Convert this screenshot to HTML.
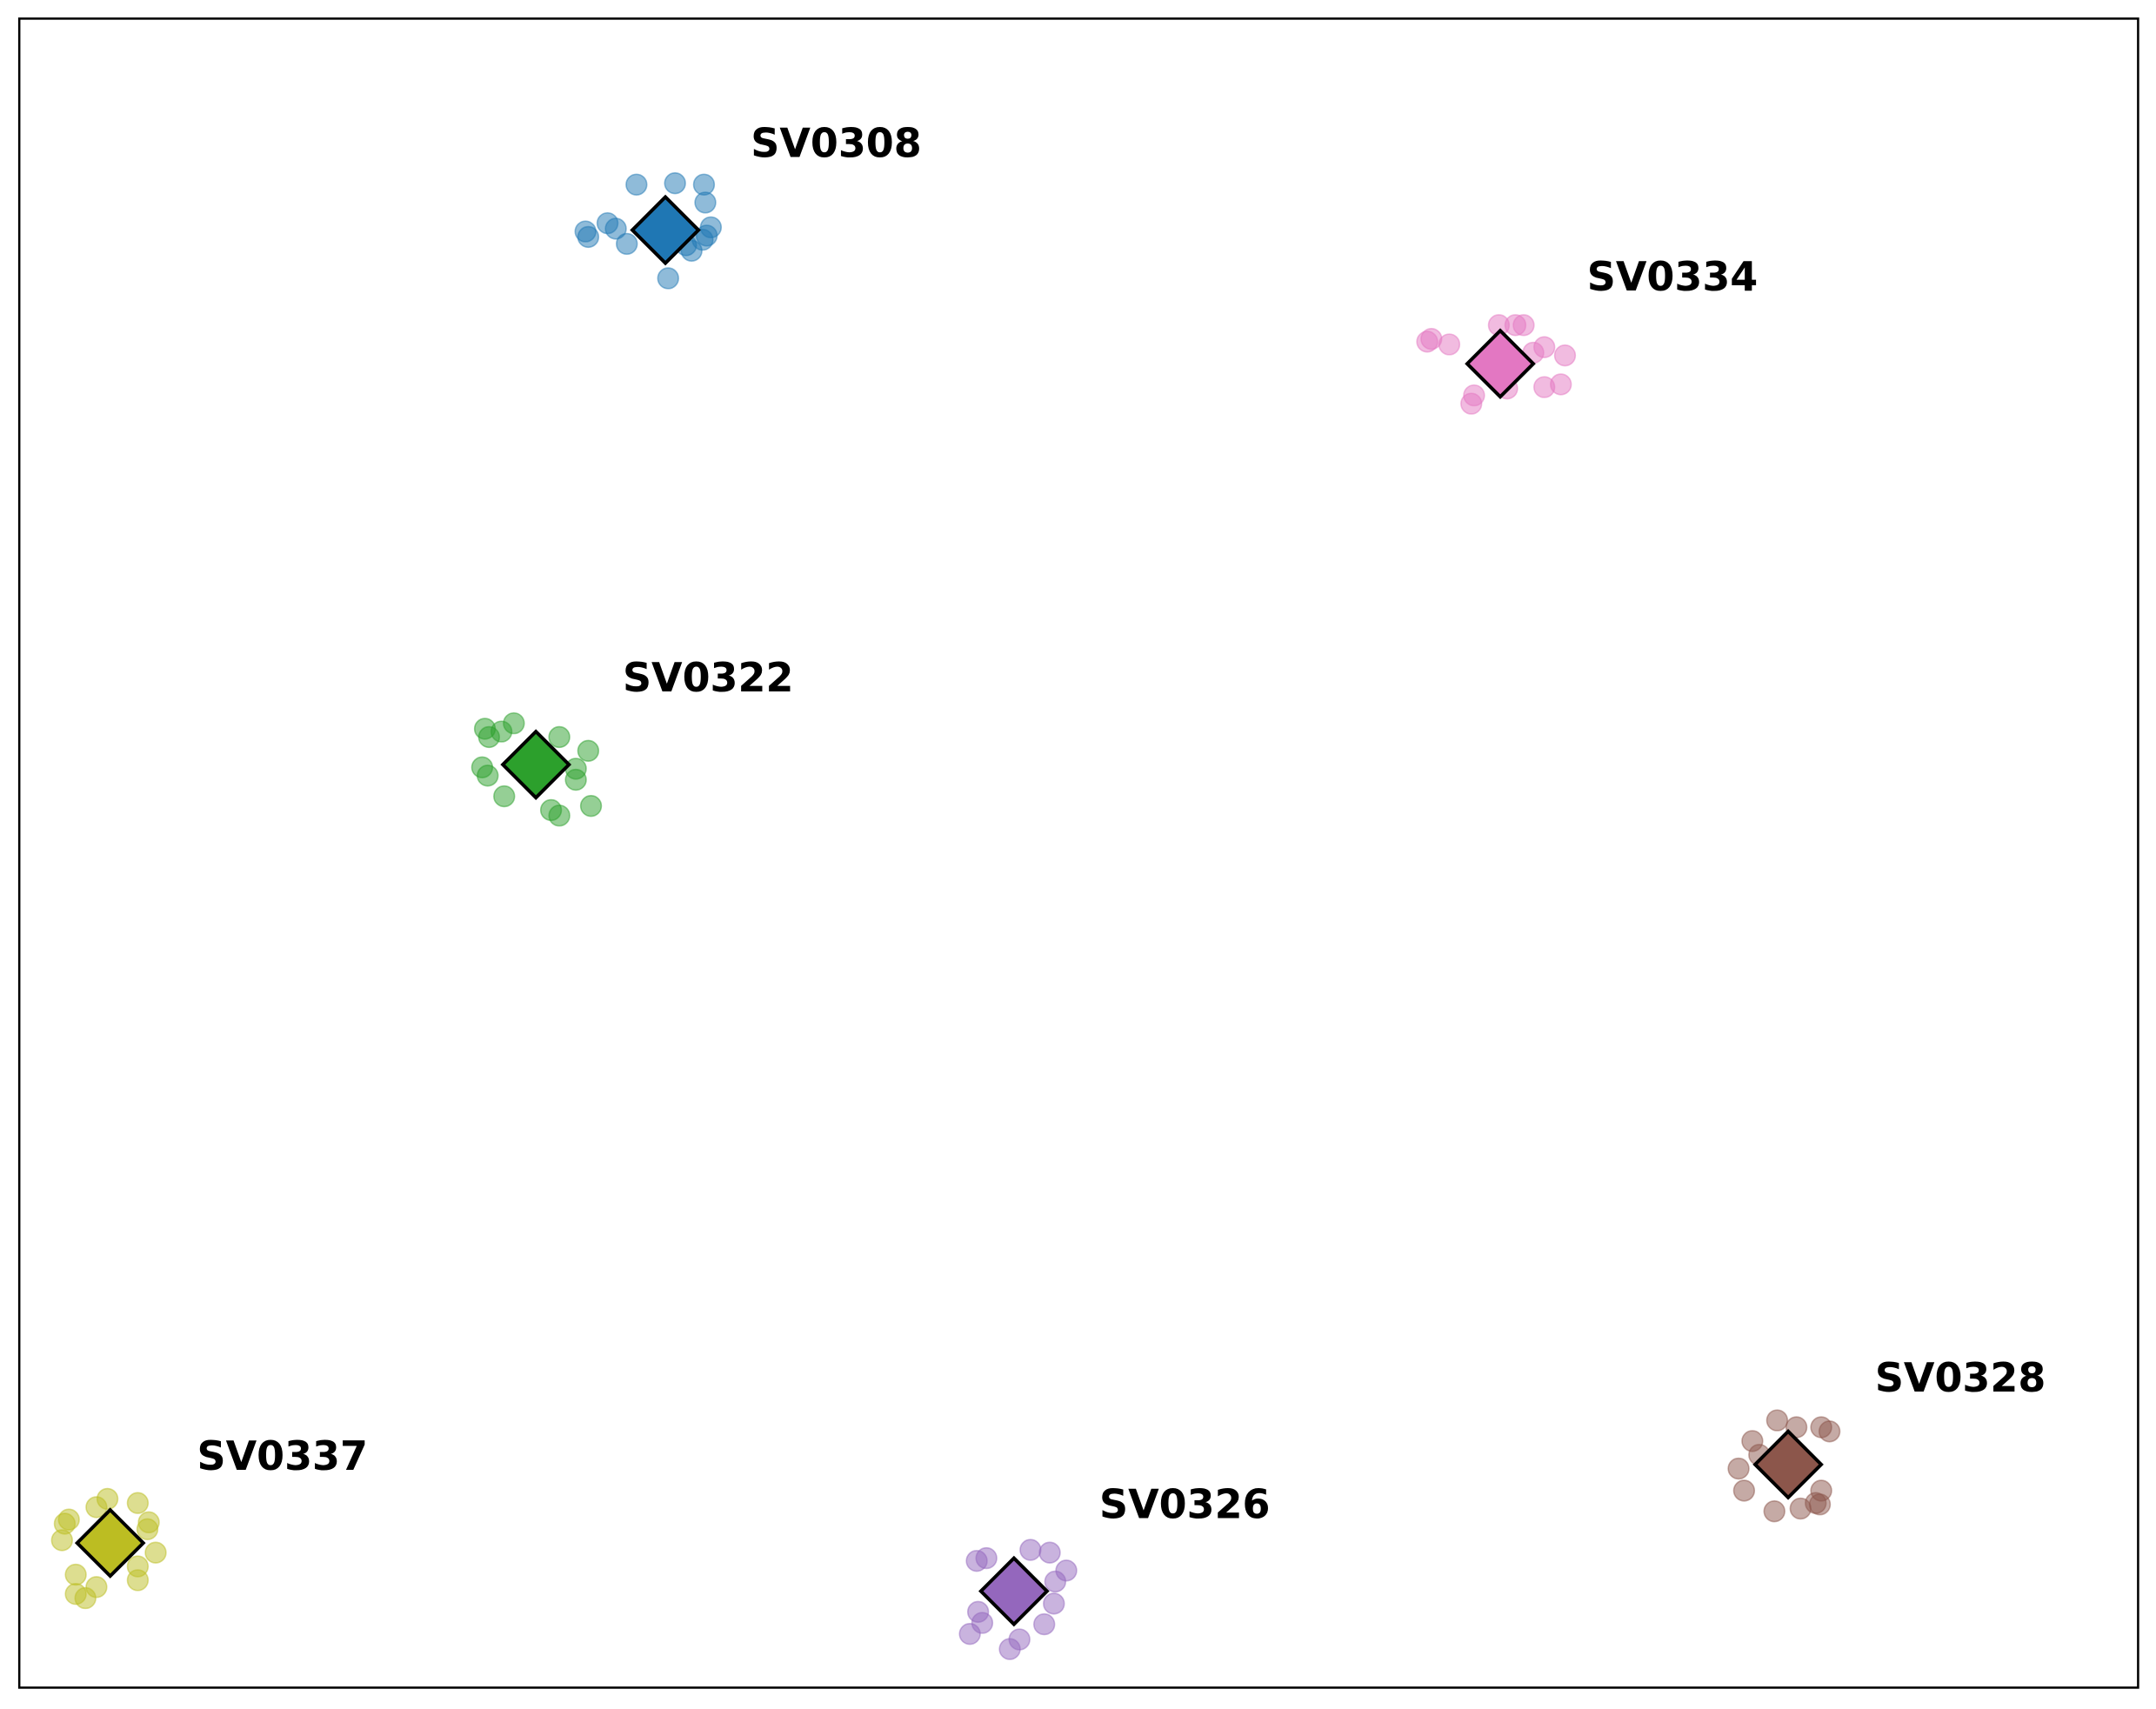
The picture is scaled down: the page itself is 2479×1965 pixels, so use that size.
<!DOCTYPE html>
<html><head><meta charset="utf-8"><style>
html,body{margin:0;padding:0;background:#fff;width:2479px;height:1965px;overflow:hidden}
svg{display:block}
text{font-family:"DejaVu Sans","Liberation Sans",sans-serif;font-weight:bold;font-size:29px;fill:#000}
</style></head><body>
<svg width="2479" height="1965" viewBox="0 0 1565 1240.5" xmlns="http://www.w3.org/2000/svg">
<rect x="0" y="0" width="1565" height="1240.5" fill="#fff"/>
<rect x="14" y="13.5" width="1538" height="1211.5" fill="none" stroke="#000" stroke-width="1.6"/>

<g fill="#1f77b4" fill-opacity="0.5" stroke="#1f77b4" stroke-opacity="0.5" stroke-width="1">
<circle cx="462" cy="134" r="7.5"/><circle cx="490" cy="133" r="7.5"/><circle cx="511" cy="134" r="7.5"/><circle cx="512" cy="147" r="7.5"/><circle cx="425" cy="168" r="7.5"/><circle cx="427" cy="172" r="7.5"/><circle cx="441" cy="162" r="7.5"/><circle cx="447" cy="166" r="7.5"/><circle cx="455" cy="177" r="7.5"/><circle cx="516" cy="165" r="7.5"/><circle cx="513" cy="171" r="7.5"/><circle cx="510" cy="174" r="7.5"/><circle cx="502" cy="182" r="7.5"/><circle cx="498" cy="178" r="7.5"/><circle cx="485" cy="202" r="7.5"/>
</g>
<polygon points="483,143 507,167 483,191 459,167" fill="#1f77b4" stroke="#000" stroke-width="2.5"/>
<text x="545" y="114">SV0308</text>

<g fill="#e377c2" fill-opacity="0.5" stroke="#e377c2" stroke-opacity="0.5" stroke-width="1">
<circle cx="1036" cy="248" r="7.5"/><circle cx="1039" cy="246" r="7.5"/><circle cx="1052" cy="250" r="7.5"/><circle cx="1088" cy="236" r="7.5"/><circle cx="1100" cy="236" r="7.5"/><circle cx="1106" cy="236" r="7.5"/><circle cx="1113" cy="256" r="7.5"/><circle cx="1121" cy="252" r="7.5"/><circle cx="1136" cy="258" r="7.5"/><circle cx="1121" cy="281" r="7.5"/><circle cx="1133" cy="279" r="7.5"/><circle cx="1070" cy="287" r="7.5"/><circle cx="1068" cy="293" r="7.5"/><circle cx="1094" cy="282" r="7.5"/>
</g>
<polygon points="1089,240 1113,264 1089,288 1065,264" fill="#e377c2" stroke="#000" stroke-width="2.5"/>
<text x="1152" y="211">SV0334</text>

<g fill="#2ca02c" fill-opacity="0.5" stroke="#2ca02c" stroke-opacity="0.5" stroke-width="1">
<circle cx="352" cy="529" r="7.5"/><circle cx="355" cy="535" r="7.5"/><circle cx="364" cy="531" r="7.5"/><circle cx="373" cy="525" r="7.5"/><circle cx="406" cy="535" r="7.5"/><circle cx="427" cy="545" r="7.5"/><circle cx="350" cy="557" r="7.5"/><circle cx="354" cy="563" r="7.5"/><circle cx="366" cy="578" r="7.5"/><circle cx="418" cy="558" r="7.5"/><circle cx="418" cy="566" r="7.5"/><circle cx="400" cy="588" r="7.5"/><circle cx="406" cy="592" r="7.5"/><circle cx="429" cy="585" r="7.5"/>
</g>
<polygon points="389,531 413,555 389,579 365,555" fill="#2ca02c" stroke="#000" stroke-width="2.5"/>
<text x="452" y="502">SV0322</text>

<g fill="#bcbd22" fill-opacity="0.5" stroke="#bcbd22" stroke-opacity="0.5" stroke-width="1">
<circle cx="47" cy="1106" r="7.5"/><circle cx="50" cy="1103" r="7.5"/><circle cx="45" cy="1118" r="7.5"/><circle cx="70" cy="1094" r="7.5"/><circle cx="78" cy="1088" r="7.5"/><circle cx="100" cy="1091" r="7.5"/><circle cx="108" cy="1105" r="7.5"/><circle cx="107" cy="1110" r="7.5"/><circle cx="113" cy="1127" r="7.5"/><circle cx="100" cy="1137" r="7.5"/><circle cx="100" cy="1147" r="7.5"/><circle cx="55" cy="1143" r="7.5"/><circle cx="55" cy="1157" r="7.5"/><circle cx="62" cy="1160" r="7.5"/><circle cx="70" cy="1152" r="7.5"/>
</g>
<polygon points="80,1096 104,1120 80,1144 56,1120" fill="#bcbd22" stroke="#000" stroke-width="2.5"/>
<text x="143" y="1067">SV0337</text>

<g fill="#9467bd" fill-opacity="0.5" stroke="#9467bd" stroke-opacity="0.5" stroke-width="1">
<circle cx="709" cy="1133" r="7.5"/><circle cx="716" cy="1131" r="7.5"/><circle cx="748" cy="1125" r="7.5"/><circle cx="762" cy="1127" r="7.5"/><circle cx="774" cy="1140" r="7.5"/><circle cx="766" cy="1148" r="7.5"/><circle cx="765" cy="1164" r="7.5"/><circle cx="710" cy="1170" r="7.5"/><circle cx="713" cy="1178" r="7.5"/><circle cx="704" cy="1186" r="7.5"/><circle cx="740" cy="1190" r="7.5"/><circle cx="733" cy="1197" r="7.5"/><circle cx="758" cy="1179" r="7.5"/>
</g>
<polygon points="736,1131 760,1155 736,1179 712,1155" fill="#9467bd" stroke="#000" stroke-width="2.5"/>
<text x="798" y="1102">SV0326</text>

<g fill="#8c564b" fill-opacity="0.5" stroke="#8c564b" stroke-opacity="0.5" stroke-width="1">
<circle cx="1290" cy="1031" r="7.5"/><circle cx="1304" cy="1036" r="7.5"/><circle cx="1322" cy="1036" r="7.5"/><circle cx="1328" cy="1039" r="7.5"/><circle cx="1272" cy="1046" r="7.5"/><circle cx="1262" cy="1066" r="7.5"/><circle cx="1266" cy="1082" r="7.5"/><circle cx="1288" cy="1097" r="7.5"/><circle cx="1307" cy="1095" r="7.5"/><circle cx="1321" cy="1092" r="7.5"/><circle cx="1322" cy="1082" r="7.5"/><circle cx="1318" cy="1091" r="7.5"/><circle cx="1277" cy="1056" r="7.5"/>
</g>
<polygon points="1298,1039 1322,1063 1298,1087 1274,1063" fill="#8c564b" stroke="#000" stroke-width="2.5"/>
<text x="1361" y="1010">SV0328</text>
</svg>
</body></html>
